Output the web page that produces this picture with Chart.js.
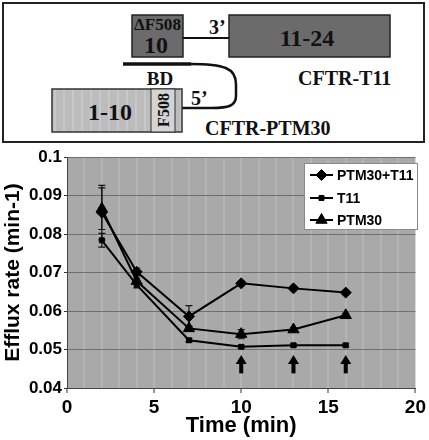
<!DOCTYPE html>
<html>
<head>
<meta charset="utf-8">
<script src="https://cdn.jsdelivr.net/npm/chart.js@4.4.0/dist/chart.umd.min.js"></script>
<style>
  body { margin: 0; background: #fff; }
  #page { position: relative; width: 429px; height: 440px; }
  #diagram { position: absolute; left: 0; top: 0; }
  #chartBox { position: absolute; left: 0; top: 145px; width: 429px; height: 295px; }
  .serif { font-family: "Liberation Serif", "Times New Roman", serif; font-weight: bold; fill: #111; }
</style>
</head>
<body>
<div id="page">
  <svg id="diagram" width="429" height="145">
    <defs>
      <pattern id="stripes" width="9" height="10" patternUnits="userSpaceOnUse">
        <rect width="9" height="10" fill="#bcbcbc"/>
        <rect x="0" width="2" height="10" fill="#c8c8c8"/>
      </pattern>
    </defs>
    <rect x="3" y="3" width="421" height="139" fill="#fff" stroke="#222" stroke-width="2"/>
    <!-- CFTR-T11 -->
    <rect x="132" y="15" width="51" height="42" fill="#6b6b6b" stroke="#222" stroke-width="1.5"/>
    <line x1="183" y1="38" x2="229" y2="38" stroke="#111" stroke-width="2"/>
    <rect x="229" y="15" width="161" height="42" fill="#6b6b6b" stroke="#222" stroke-width="1.5"/>
    <text class="serif" x="157.5" y="30" font-size="16" text-anchor="middle" textLength="47" lengthAdjust="spacingAndGlyphs">ΔF508</text>
    <text class="serif" x="156" y="53" font-size="24" text-anchor="middle">10</text>
    <text class="serif" x="209" y="34" font-size="20">3’</text>
    <text class="serif" x="307" y="46" font-size="24" text-anchor="middle">11-24</text>
    <text class="serif" x="298" y="85" font-size="20">CFTR-T11</text>
    <!-- binding domain and PTM -->
    <line x1="123" y1="64" x2="191" y2="64" stroke="#111" stroke-width="3.5"/>
    <path d="M190,64 C224,64 236,68 236,84 L236,96 C236,106 228,108 212,108 L182,108" fill="none" stroke="#111" stroke-width="2.5"/>
    <text class="serif" x="160" y="85" font-size="19" text-anchor="middle">BD</text>
    <rect x="52" y="89" width="130" height="43" fill="url(#stripes)" stroke="#333" stroke-width="1.5"/>
    <rect x="151" y="89" width="24" height="43" fill="#d4d4d4" stroke="#333" stroke-width="1"/>
    <text class="serif" x="110" y="120" font-size="24" text-anchor="middle">1-10</text>
    <text class="serif" font-size="16" text-anchor="middle" transform="translate(169,110) rotate(-90)">F508</text>
    <text class="serif" x="191" y="105" font-size="20">5’</text>
    <text class="serif" x="205" y="135" font-size="20">CFTR-PTM30</text>
  </svg>
  <div id="chartBox"><canvas id="effluxChart"></canvas></div>
</div>
<script>
// time points (min) and efflux rates
const times = [2, 4, 7, 10, 13, 16];
const ptm30t11 = [0.0856, 0.0702, 0.0586, 0.0672, 0.0659, 0.0648];
const t11 = [0.0784, 0.0668, 0.0524, 0.0507, 0.0511, 0.0511];
const ptm30 = [0.0866, 0.0678, 0.0555, 0.0540, 0.0552, 0.0589];
const ptm30t11Err = [0.0071, 0.0010, 0.0028, 0.0006, 0.0005, 0.0005];
const t11Err = [0.0018, 0.0008, 0.0005, 0.0004, 0.0004, 0.0004];
const ptm30Err = [0.0054, 0.0008, 0.0006, 0.0012, 0.0005, 0.0005];
// arrows below the T11 trace
const arrowTimes = [10, 13, 16];
const arrowFrom = 0.0438;
const arrowTo = 0.0486;
const yTicks = [0.04, 0.05, 0.06, 0.07, 0.08, 0.09, 0.1];

const FONT = '"Liberation Sans", Arial, sans-serif';

function series(values) {
    return values.map((v, i) => ({ x: times[i], y: v }));
}

// grey plot background
const plotBackground = {
    id: 'plotBackground',
    beforeDraw(chart) {
        const { ctx, chartArea: a } = chart;
        ctx.save();
        ctx.fillStyle = '#a9a9a9';
        ctx.fillRect(a.left, a.top, a.right - a.left, a.bottom - a.top);
        ctx.restore();
    }
};

// vertical error bars
const errorBars = {
    id: 'errorBars',
    beforeDatasetsDraw(chart) {
        const { ctx } = chart;
        const x = chart.scales.x, y = chart.scales.y;
        ctx.save();
        ctx.strokeStyle = '#111';
        ctx.lineWidth = 1.2;
        chart.data.datasets.forEach(ds => {
            ds.errors.forEach((e, i) => {
                const px = x.getPixelForValue(times[i]);
                const top = y.getPixelForValue(ds.data[i].y + e);
                const bot = y.getPixelForValue(ds.data[i].y - e);
                ctx.beginPath();
                ctx.moveTo(px, top); ctx.lineTo(px, bot);
                ctx.moveTo(px - 3.5, top); ctx.lineTo(px + 3.5, top);
                ctx.moveTo(px - 3.5, bot); ctx.lineTo(px + 3.5, bot);
                ctx.stroke();
            });
        });
        ctx.restore();
    }
};

// upward arrows and in-plot legend
const overlays = {
    id: 'overlays',
    afterDatasetsDraw(chart) {
        const { ctx } = chart;
        const x = chart.scales.x, y = chart.scales.y;
        ctx.save();
        ctx.fillStyle = '#000';
        arrowTimes.forEach(t => {
            const px = x.getPixelForValue(t);
            const b = y.getPixelForValue(arrowFrom);
            const tip = y.getPixelForValue(arrowTo);
            ctx.fillRect(px - 2, tip + 7, 4, b - tip - 7);
            ctx.beginPath();
            ctx.moveTo(px, tip);
            ctx.lineTo(px + 5.5, tip + 9);
            ctx.lineTo(px - 5.5, tip + 9);
            ctx.closePath();
            ctx.fill();
        });

        // legend box
        ctx.fillStyle = '#fff';
        ctx.fillRect(304, 18, 113, 66);
        ctx.strokeStyle = '#8a8a8a';
        ctx.lineWidth = 1;
        ctx.strokeRect(304.5, 18.5, 113, 66);
        const rows = [30, 53, 75];
        chart.data.datasets.forEach((ds, i) => {
            const ry = rows[i];
            ctx.strokeStyle = '#000';
            ctx.fillStyle = '#000';
            ctx.lineWidth = 2;
            ctx.beginPath();
            ctx.moveTo(310, ry); ctx.lineTo(333, ry);
            ctx.stroke();
            ctx.lineWidth = 1;
            Chart.helpers.drawPoint(ctx, {
                pointStyle: ds.pointStyle, radius: ds.pointRadius, borderWidth: 1
            }, 321.5, ry);
            ctx.font = 'bold 14px ' + FONT;
            ctx.textBaseline = 'middle';
            ctx.fillText(ds.label, 337, ry + 1);
        });
        ctx.restore();
    }
};

const ctx = document.getElementById('effluxChart').getContext('2d');
const effluxChart = new Chart(ctx, {
    type: 'line',
    data: {
        datasets: [{
            label: 'PTM30+T11',
            data: series(ptm30t11),
            errors: ptm30t11Err,
            pointStyle: 'rectRot',
            pointRadius: 5.5
        }, {
            label: 'T11',
            data: series(t11),
            errors: t11Err,
            pointStyle: 'rect',
            pointRadius: 3.5
        }, {
            label: 'PTM30',
            data: series(ptm30),
            errors: ptm30Err,
            pointStyle: 'triangle',
            pointRadius: 6.5
        }]
    },
    options: {
        responsive: true,
        maintainAspectRatio: false,
        animation: false,
        layout: { padding: { top: 11, right: 3, left: 0, bottom: 0 } },
        elements: {
            line: { borderColor: '#000', borderWidth: 2, tension: 0 },
            point: { backgroundColor: '#000', borderColor: '#000', borderWidth: 1 }
        },
        plugins: {
            legend: { display: false },
            tooltip: { enabled: false }
        },
        scales: {
            x: {
                type: 'linear',
                min: 0,
                max: 20,
                afterFit: s => { s.height = 52; },
                ticks: {
                    stepSize: 1,
                    autoSkip: false,
                    maxRotation: 0,
                    padding: 3,
                    color: '#000',
                    font: { family: FONT, size: 19, weight: 'bold' },
                    callback: v => (v % 5 === 0 ? String(v) : '')
                },
                grid: {
                    color: ctx => (ctx.tick && ctx.tick.value % 20 === 0 ? 'rgba(0,0,0,0)' : '#b5b5b5'),
                    lineWidth: 2,
                    tickLength: 5,
                    tickColor: ctx => (ctx.tick && ctx.tick.value % 5 === 0 ? '#333' : 'rgba(0,0,0,0)'),
                    tickWidth: 1
                },
                border: { color: '#444', width: 1 },
                title: {
                    display: true,
                    text: 'Time (min)',
                    color: '#000',
                    font: { family: FONT, size: 22, weight: 'bold' },
                    padding: { top: 0, bottom: 1 }
                }
            },
            y: {
                min: 0.04,
                max: 0.1,
                afterFit: s => { s.width = 67; },
                afterBuildTicks: s => { s.ticks = yTicks.map(v => ({ value: v })); },
                ticks: {
                    padding: 2,
                    color: '#000',
                    font: { family: FONT, size: 17, weight: 'bold' },
                    callback: v => String(+v.toFixed(2))
                },
                grid: {
                    color: '#707070',
                    lineWidth: 1,
                    tickLength: 3,
                    tickColor: '#333'
                },
                border: { color: '#444', width: 1 },
                title: {
                    display: true,
                    text: 'Efflux rate (min-1)',
                    color: '#000',
                    font: { family: FONT, size: 21, weight: 'bold' },
                    padding: { top: 1, bottom: 0 }
                }
            }
        }
    },
    plugins: [plotBackground, errorBars, overlays]
});
</script>
</body>
</html>
